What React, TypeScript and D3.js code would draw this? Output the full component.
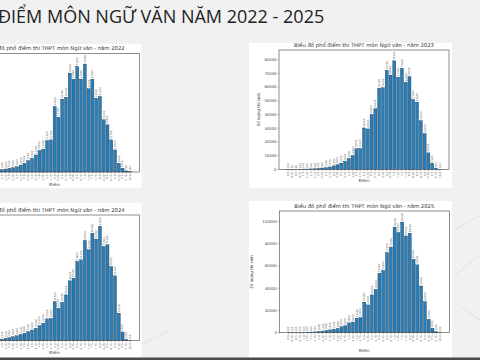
import React from 'react';
import * as d3 from 'd3';

// score bins 0 .. 10 in steps of 0.25
const scoreLabels = [
  '0.0', '0.25', '0.5', '0.75', '1.0', '1.25', '1.5', '1.75', '2.0', '2.25', '2.5',
  '2.75', '3.0', '3.25', '3.5', '3.75', '4.0', '4.25', '4.5', '4.75', '5.0',
  '5.25', '5.5', '5.75', '6.0', '6.25', '6.5', '6.75', '7.0', '7.25', '7.5',
  '7.75', '8.0', '8.25', '8.5', '8.75', '9.0', '9.25', '9.5', '9.75', '10.0',
];

const counts2022 = [
  150, 200, 300, 400, 600, 900, 1600, 2000, 2500, 2900, 3600,
  4700, 5900, 7700, 9300, 11500, 14500, 15400, 21200, 21700, 44300,
  37100, 49300, 50600, 66900, 62800, 71400, 62800, 73000, 56300, 62800,
  49900, 51100, 35300, 31900, 21700, 14900, 5900, 2500, 700, 150,
];

const counts2023 = [
  100, 50, 80, 100, 150, 200, 300, 400, 600, 900, 1200,
  1700, 2500, 3300, 4500, 6000, 8000, 10000, 15000, 15100, 30200,
  29500, 40000, 44200, 59300, 59500, 72300, 68800, 79200, 67300, 73800,
  63500, 67600, 51000, 49000, 35500, 26000, 12000, 4500, 900, 100,
];

const counts2024 = [
  100, 150, 250, 350, 500, 700, 1300, 1900, 2400, 3200, 4000,
  5100, 5900, 7300, 8600, 10000, 12100, 14000, 17500, 18000, 31500,
  26100, 30900, 36900, 48200, 50300, 63800, 65100, 80700, 73200, 86600,
  81800, 92000, 75900, 77200, 59700, 52200, 22100, 7000, 1000, 100,
];

const counts2025 = [
  200, 150, 200, 250, 300, 400, 600, 700, 1000, 1400, 1900,
  2500, 3200, 3800, 5300, 6200, 8800, 9600, 13000, 13600, 27500,
  25000, 34000, 39000, 53500, 56000, 72000, 77000, 95000, 90000, 99500,
  87000, 89500, 66000, 61000, 42000, 28000, 12000, 4000, 1000, 200,
];

const FONT = '"DejaVu Sans", sans-serif';

type PanelProps = {
  year: number;
  values: number[];
  x0: number;
  x1: number;
  top: number;
  zero: number;
  tickCount: number;
  yLabelGap: number;
  xLabelGap: number;
};

function Panel({ year, values, x0, x1, top, zero, tickCount, yLabelGap, xLabelGap }: PanelProps) {
  const n = values.length;
  // matplotlib style: bar width 0.8 and 5% margins
  const span = n - 1 + 0.8;
  const x = d3.scaleLinear()
    .domain([-0.4 - 0.05 * span, n - 1 + 0.4 + 0.05 * span])
    .range([x0, x1]);
  const maxV = d3.max(values) as number;
  const y = d3.scaleLinear().domain([0, maxV * 1.1]).range([zero, top]);
  const bw = x(0.8) - x(0);
  const cx = (x0 + x1) / 2;
  const yAxisVisible = x0 > 0; // left panels are cut by the slide edge
  const idx = d3.range(n).filter((i) => x(i) > 1);

  return (
    <g>
      <text x={cx} y={top - 3} textAnchor="middle" fontSize={5.3} fill="#333" fontFamily={FONT}>
        {`Biểu đồ phổ điểm thi THPT môn Ngữ văn - năm ${year}`}
      </text>
      {values.map((v, i) => (
        <rect key={i} x={x(i) - bw / 2} y={y(v)} width={bw} height={zero - y(v)}
          fill="#2a7db5" stroke="#17324a" strokeWidth={0.35} />
      ))}
      {idx.map((i) => (
        <text key={'l' + i} transform={`translate(${x(i) + 0.9},${y(values[i]) - 1}) rotate(-90)`}
          fontSize={2.6} fill="#666" fontFamily={FONT}>{values[i]}</text>
      ))}
      <rect x={x0} y={top} width={x1 - x0} height={zero - top} fill="none" stroke="#444" strokeWidth={0.6} />
      {idx.map((i) => (
        <g key={'t' + i}>
          <line x1={x(i)} x2={x(i)} y1={zero} y2={zero + 1.5} stroke="#444" strokeWidth={0.4} />
          <text transform={`translate(${x(i) + 0.9},${zero + 2.5}) rotate(-90)`} textAnchor="end"
            fontSize={2.8} fill="#555" fontFamily={FONT}>{scoreLabels[i]}</text>
        </g>
      ))}
      {yAxisVisible && y.ticks(tickCount).map((t) => (
        <g key={'y' + t}>
          <line x1={x0 - 1.5} x2={x0} y1={y(t)} y2={y(t)} stroke="#444" strokeWidth={0.4} />
          <text x={x0 - 2.5} y={y(t)} dy="0.35em" textAnchor="end" fontSize={3.8} fill="#444" fontFamily={FONT}>{t}</text>
        </g>
      ))}
      {yAxisVisible && (
        <text transform={`translate(${x0 - yLabelGap},${(top + zero) / 2}) rotate(-90)`} textAnchor="middle"
          fontSize={4} fill="#444" fontFamily={FONT}>Số lượng thí sinh</text>
      )}
      <text x={cx} y={zero + xLabelGap} textAnchor="middle" fontSize={4} fill="#444" fontFamily={FONT}>Điểm</text>
    </g>
  );
}

export default function App() {
  return (
    <svg width={480} height={360} style={{ position: 'absolute', left: 0, top: 0 }}>
      <rect x={0} y={0} width={480} height={360} fill="#f1f1f1" />
      <g stroke="#e2e2e2" strokeWidth={1} fill="none">
        <line x1={455} y1={230} x2={480} y2={215} />
        <line x1={455} y1={275} x2={480} y2={255} />
        <line x1={458} y1={305} x2={480} y2={320} />
        <line x1={140} y1={345} x2={170} y2={330} />
      </g>
      <text x={-2} y={23} fontSize={18} fill="#222" fontFamily='"Open Sans", sans-serif'>
        ĐIỂM MÔN NGỮ VĂN NĂM 2022 - 2025
      </text>
      <rect x={-5} y={44} width={146.5} height={144} fill="#fff" />
      <rect x={249} y={43} width={203} height={145} fill="#fff" />
      <rect x={-5} y={203} width={146.5} height={155} fill="#fff" />
      <rect x={249} y={201} width={203} height={157} fill="#fff" />
      <Panel year={2022} values={counts2022} x0={-30} x1={139.3} top={53.3} zero={172}
        tickCount={8} yLabelGap={19} xLabelGap={13.5} />
      <Panel year={2023} values={counts2023} x0={279} x1={449} top={50} zero={169.3}
        tickCount={8} yLabelGap={19} xLabelGap={12.5} />
      <Panel year={2024} values={counts2024} x0={-30} x1={139.3} top={215} zero={340.7}
        tickCount={8} yLabelGap={21} xLabelGap={13.5} />
      <Panel year={2025} values={counts2025} x0={279.3} x1={449.3} top={211} zero={332.7}
        tickCount={5} yLabelGap={26} xLabelGap={19} />
      <rect x={0} y={357.5} width={480} height={2.5} fill="#4a4a4a" />
    </svg>
  );
}
